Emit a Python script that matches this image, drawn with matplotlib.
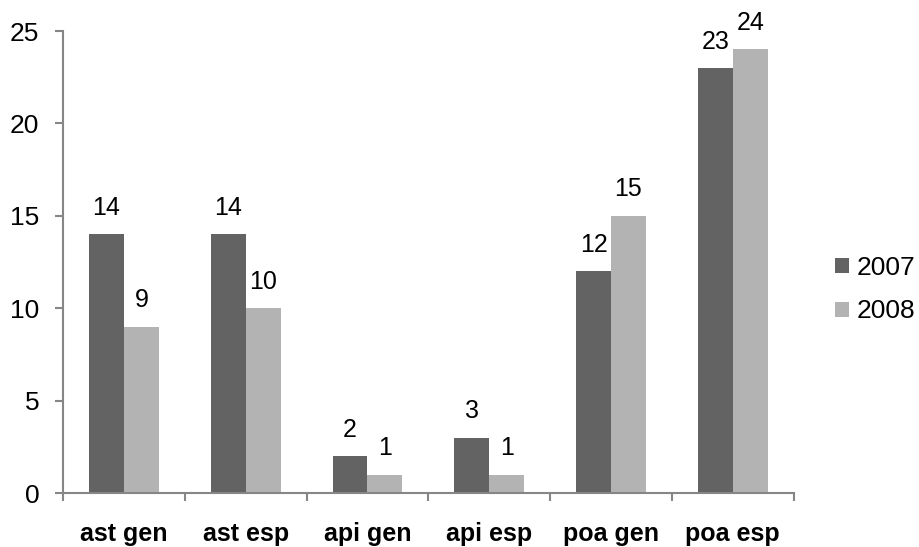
import numpy as np
import matplotlib.pyplot as plt
from matplotlib.patches import Patch

plt.rcParams['font.family'] = ['Liberation Sans', 'DejaVu Sans']

categories = ['ast gen', 'ast esp', 'api gen', 'api esp', 'poa gen', 'poa esp']
years = ['2007', '2008']
vals_2007 = [14, 14, 2, 3, 12, 23]
vals_2008 = [9, 10, 1, 1, 15, 24]

colors = ['#636363', '#b3b3b3']
axis_color = '#868686'

fig = plt.figure(figsize=(9.19, 5.47), dpi=100)
ax = fig.add_axes([0.0686, 0.0987, 0.795, 0.8446])

x = np.arange(len(categories))
w = 0.287
for i, (vals, c) in enumerate(zip([vals_2007, vals_2008], colors)):
    pos = x + (i - 0.5) * w
    ax.bar(pos, vals, width=w, color=c, align='center')
    for px, v in zip(pos, vals):
        ax.annotate(str(v), (px, v), xytext=(0, 19), textcoords='offset points',
                    ha='center', va='center', fontsize=18)

ax.set_xlim(-0.5, len(categories) - 0.5)
ax.set_ylim(0, 25)
ax.set_yticks(range(0, 26, 5))

ax.set_xticks(x)
ax.set_xticklabels(categories, fontsize=18, fontweight='bold')
ax.set_xticks(np.arange(-0.5, len(categories)), minor=True)
ax.tick_params(axis='x', which='major', length=0, pad=21)
ax.tick_params(axis='x', which='minor', length=6, width=1.5, color=axis_color, direction='out')
ax.tick_params(axis='y', length=6, width=1.5, color=axis_color, pad=11, labelsize=19)

for s in ['top', 'right']:
    ax.spines[s].set_visible(False)
for s in ['left', 'bottom']:
    ax.spines[s].set_color(axis_color)
    ax.spines[s].set_linewidth(1.5)

handles = [Patch(facecolor=c, label=y) for c, y in zip(colors, years)]
fig.legend(handles=handles, loc='center left', bbox_to_anchor=(0.909, 0.4707),
           frameon=False, fontsize=19, handlelength=0.5, handleheight=0.5,
           handletextpad=0.3, labelspacing=0.75, borderpad=0, borderaxespad=0)

fig.savefig('out.png', dpi=100)
